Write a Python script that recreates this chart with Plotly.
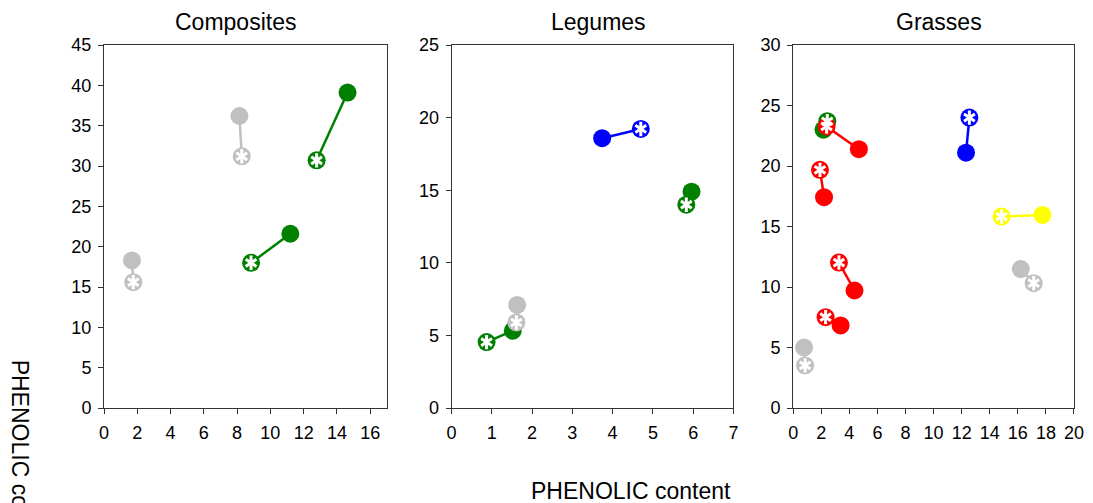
import plotly.graph_objects as go

# ---------------- data ----------------
panel_titles = ["Composites", "Legumes", "Grasses"]

# Composites
comp_colors = ["#c0c0c0", "#c0c0c0", "#008000", "#008000"]
comp_fill_x = [1.68, 8.14, 11.2, 14.64]
comp_fill_y = [18.3, 36.2, 21.6, 39.1]
comp_ast_x = [1.76, 8.28, 8.84, 12.78]
comp_ast_y = [15.6, 31.2, 18.0, 30.7]

# Legumes
leg_colors = ["#c0c0c0", "#008000", "#0000ff", "#008000"]
leg_fill_x = [1.63, 1.52, 3.74, 5.96]
leg_fill_y = [7.1, 5.32, 18.58, 14.9]
leg_ast_x = [1.61, 0.87, 4.70, 5.83]
leg_ast_y = [5.89, 4.54, 19.22, 14.0]

# Grasses
gra_colors = ["#008000", "#ff0000", "#ff0000", "#ff0000", "#ff0000",
              "#0000ff", "#ffff00", "#c0c0c0", "#c0c0c0"]
gra_fill_x = [2.16, 4.68, 2.20, 4.37, 3.38, 12.31, 17.75, 16.21, 0.78]
gra_fill_y = [23.0, 21.39, 17.42, 9.71, 6.82, 21.1, 15.96, 11.48, 5.0]
gra_ast_x = [2.43, 2.38, 1.91, 3.26, 2.31, 12.55, 14.84, 17.13, 0.85]
gra_ast_y = [23.7, 23.27, 19.68, 12.02, 7.51, 24.0, 15.82, 10.32, 3.52]

x_ranges = [[0, 17], [0, 7], [0, 20]]
x_dticks = [2, 1, 2]
y_ranges = [[0, 45], [0, 25], [0, 30]]
y_dtick = 5

x_title = "PHENOLIC content"
y_title = "PHENOLIC content"

panels = [
    (comp_colors, comp_fill_x, comp_fill_y, comp_ast_x, comp_ast_y),
    (leg_colors, leg_fill_x, leg_fill_y, leg_ast_x, leg_ast_y),
    (gra_colors, gra_fill_x, gra_fill_y, gra_ast_x, gra_ast_y),
]

# ---------------- layout geometry ----------------
W, H = 1093, 503
S = 0.9935  # horizontal compensation


def hx(px):
    return 104 + (px - 104) / S


ml, mt, mb = 104, 45, 95
right = hx(1078)
mr = W - right
pw = right - ml
domains = [[0.0, (hx(388) - ml) / pw],
           [(hx(453) - ml) / pw, (hx(736) - ml) / pw],
           [(hx(796) - ml) / pw, 1.0]]

FONT = "Liberation Sans, Arial, sans-serif"
AX_COLOR = "#333333"
MS = 18

fig = go.Figure()

for i, (cols, fx, fy, ax, ay) in enumerate(panels):
    xa = "x" if i == 0 else f"x{i+1}"
    ya = "y" if i == 0 else f"y{i+1}"
    # connecting lines
    for c, x1, y1, x2, y2 in zip(cols, fx, fy, ax, ay):
        fig.add_trace(go.Scatter(x=[x1, x2], y=[y1, y2], mode="lines",
                                 line=dict(color=c, width=2.5),
                                 xaxis=xa, yaxis=ya, showlegend=False,
                                 hoverinfo="skip"))
    # filled circles
    fig.add_trace(go.Scatter(x=fx, y=fy, mode="markers",
                             marker=dict(symbol="circle", size=MS, color=cols,
                                         line=dict(width=0)),
                             xaxis=xa, yaxis=ya, showlegend=False))
    # asterisk circles
    fig.add_trace(go.Scatter(x=ax, y=ay, mode="markers",
                             marker=dict(symbol="circle", size=MS, color=cols,
                                         line=dict(width=0)),
                             xaxis=xa, yaxis=ya, showlegend=False))
    for sym in ("y-up-open", "y-down-open"):
        fig.add_trace(go.Scatter(x=ax, y=ay, mode="markers",
                                 marker=dict(symbol=sym, size=9,
                                             color="white",
                                             line=dict(color="white", width=3)),
                                 xaxis=xa, yaxis=ya, showlegend=False,
                                 hoverinfo="skip"))

    axis_common = dict(showline=True, linecolor=AX_COLOR, linewidth=1, mirror=True,
                       ticks="outside", ticklen=5, tickcolor=AX_COLOR,
                       showgrid=False, zeroline=False, ticklabelstandoff=3,
                       tickfont=dict(family=FONT, size=18, color="black"))
    fig.layout[("xaxis" if i == 0 else f"xaxis{i+1}")] = dict(
        domain=domains[i], range=x_ranges[i], dtick=x_dticks[i], tick0=0,
        anchor=ya, **axis_common)
    fig.layout[("yaxis" if i == 0 else f"yaxis{i+1}")] = dict(
        domain=[0, 1], range=y_ranges[i], dtick=y_dtick, tick0=0,
        anchor=xa, **axis_common)

# panel titles
title_px = [236, 601, 942]
for t, px in zip(panel_titles, title_px):
    fig.add_annotation(text=t, x=(hx(px) - ml) / pw, y=1, xref="paper", yref="paper",
                       xanchor="center", yanchor="bottom", yshift=8,
                       showarrow=False, font=dict(family=FONT, size=23, color="black"))

# axis titles
fig.add_annotation(text=x_title, x=(hx(633) - ml) / pw, y=0, xref="paper", yref="paper",
                   xanchor="center", yanchor="middle", yshift=-83,
                   showarrow=False, font=dict(family=FONT, size=23, color="black"))
fig.add_annotation(text=y_title, x=(hx(20) - ml) / pw, y=0, xref="paper", yref="paper",
                   xanchor="center", yanchor="middle", yshift=-52, textangle=90,
                   showarrow=False, font=dict(family=FONT, size=23, color="black"))

fig.update_layout(width=W, height=H, margin=dict(l=ml, r=mr, t=mt, b=mb),
                  plot_bgcolor="white", paper_bgcolor="white", showlegend=False)

fig.write_html("out.html", config={"displayModeBar": False},
               post_script=("document.documentElement.style.overflow='hidden';"
                            "document.body.style.margin='0px';"
                            "document.body.style.overflow='hidden';"))
